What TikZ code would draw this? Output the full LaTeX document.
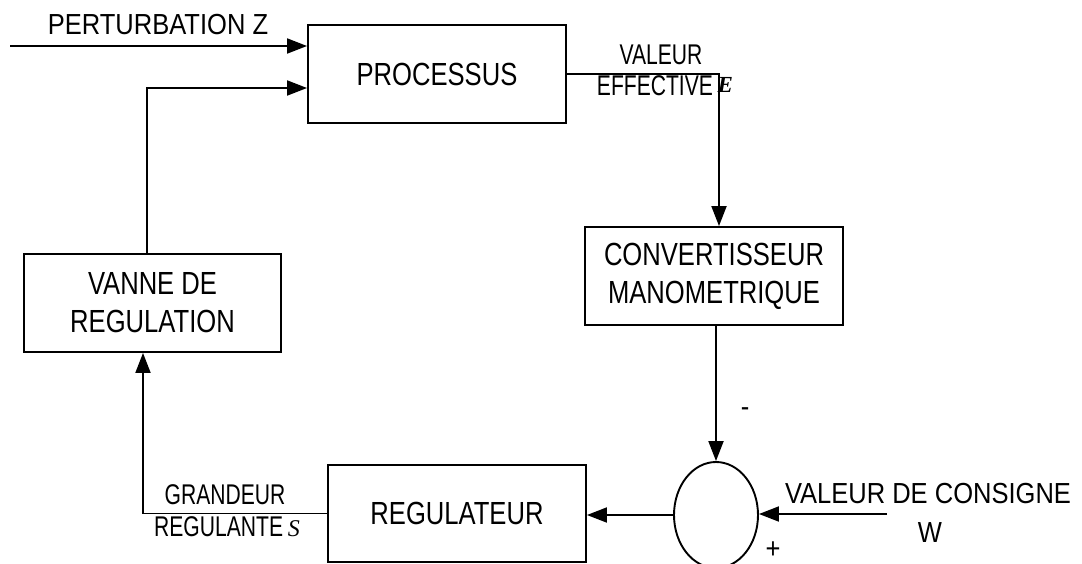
\documentclass[tikz,border=0pt]{standalone}
\usepackage{fontspec}
\setmainfont{Liberation Sans}
\newfontfamily\boxfont{Liberation Sans}[FakeStretch=0.8]
\newfontfamily\lblfont{Liberation Sans}[FakeStretch=0.88]
\newfontfamily\smlfont{Liberation Sans}[FakeStretch=0.74]
\newfontfamily\varfont{Liberation Serif}
\usepackage{tikz}
\usetikzlibrary{arrows.meta,positioning,calc,shapes.geometric}

\begin{document}
\begin{tikzpicture}[x=1pt,y=-1pt,line width=1.9pt,blk/.style={draw,font=\boxfont\fontsize{32}{38}\selectfont,align=center,minimum width=258pt,minimum height=98pt,inner sep=0pt},lbl/.style={font=\lblfont\fontsize{29}{33}\selectfont,inner sep=0pt},smalllbl/.style={font=\smlfont\fontsize{28.5}{31}\selectfont,inner sep=0pt},arr/.style={-{Triangle[length=20pt,width=15pt]}}]
\useasboundingbox (0,0) rectangle (1082,563);
\node[blk] (proc) at (437,74) {PROCESSUS};
\node[blk] (conv) at (714,276) {CONVERTISSEUR\\MANOMETRIQUE};
\node[blk,minimum width=257pt] (vanne) at (152.5,303) {VANNE DE\\REGULATION};
\node[blk,minimum height=97pt] (reg) at (457,513.5) {REGULATEUR};
\node[draw,ellipse,minimum width=84pt,minimum height=106pt,inner sep=0pt] (sum) at (716,515) {};
\coordinate (pz) at (10,46);
\coordinate (w) at (887,514);
\node[lbl] (pzlbl) at (158,25) {PERTURBATION Z};
\node[smalllbl] (valtop) at (661,55) {VALEUR};
\node[smalllbl] (eff) at (665,86) {EFFECTIVE\,\raisebox{3pt}{\varfont\fontsize{23}{24}\selectfont\bfseries\itshape E}};
\node[smalllbl] (grand) at (225,495) {GRANDEUR};
\node[smalllbl] (regul) at (227,527) {REGULANTE\,{\varfont\fontsize{24}{26}\selectfont\itshape S}};
\node[lbl] (consigne) at (928,494) {VALEUR DE CONSIGNE};
\node[lbl] (wlbl) at (930,533) {W};
\node[lbl] (minus) at (745,412) {-};
\node[lbl] (plus) at (773,550) {+};
\draw[arr] (pz) -- ([yshift=28pt]proc.west);
\draw[arr] ([xshift=-5.5pt]vanne.north) |- ([yshift=-14pt]proc.west);
\draw[arr] (proc.east) -| ([xshift=5pt]conv.north);
\draw[arr] (conv.south -| sum.north) -- (sum.north);
\draw[arr] (sum.west) -- (sum.west -| reg.east);
\draw[arr] (w) -- (w -| sum.east);
\draw[arr] (reg.west) -| ([xshift=-9.5pt]vanne.south);
\end{tikzpicture}
\end{document}
